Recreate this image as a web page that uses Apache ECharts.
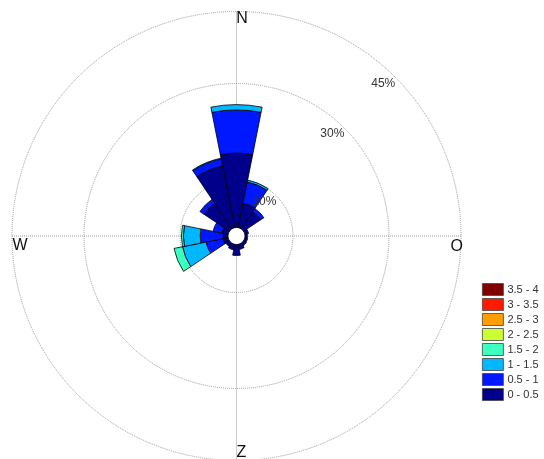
<!DOCTYPE html>
<html>
<head>
<meta charset="utf-8">
<script src="https://cdn.jsdelivr.net/npm/echarts@6/dist/echarts.min.js"></script>
<style>
html,body{margin:0;padding:0;background:#fff;}
#chart{width:544px;height:459px;}
</style>
</head>
<body>
<div id="chart"></div>
<script>
// Wind directions, clockwise from North
const directions = ['N','NNE','NE','ENE','E','ESE','SE','SSE','S','SSW','SW','WSW','W','WNW','NW','NNW'];
// Speed classes (bins)
const speedBins = ['0 - 0.5','0.5 - 1','1 - 1.5','1.5 - 2','2 - 2.5','2.5 - 3','3 - 3.5','3.5 - 4'];
// Frequency (%) per direction for each speed class
const freq_0_05   = [15.5, 5.2, 4.3, 0.8, 0.5, 0.6, 0.7, 1.1, 2.3, 1.2, 0.9, 1.1, 1.0, 1.3, 6.4, 13.1];
const freq_05_1   = [9.0, 4.5, 0.8, 0, 0, 0, 0, 0, 0, 0, 0, 3.6, 4.8, 1.9, 1.0, 1.5];
const freq_1_15   = [1.1, 0.4, 0, 0, 0, 0, 0, 0, 0, 0, 0, 5.0, 3.5, 0, 0, 0.15];
const freq_15_2   = [0, 0, 0, 0, 0, 0, 0, 0, 0, 0, 0, 1.8, 0.4, 0, 0, 0];
const freq_2_25   = [0, 0, 0, 0, 0, 0, 0, 0, 0, 0, 0, 0, 0, 0, 0, 0];
const freq_25_3   = [0, 0, 0, 0, 0, 0, 0, 0, 0, 0, 0, 0, 0, 0, 0, 0];
const freq_3_35   = [0, 0, 0, 0, 0, 0, 0, 0, 0, 0, 0, 0, 0, 0, 0, 0];
const freq_35_4   = [0, 0, 0, 0, 0, 0, 0, 0, 0, 0, 0, 0, 0, 0, 0, 0];
// Ring (radius tick) values in percent
const ringValues = [10, 30, 45];
// Compass labels
const compassLabels = {0: 'N', 90: 'O', 180: 'Z', 270: 'W'};

const binData = [freq_0_05, freq_05_1, freq_1_15, freq_15_2, freq_2_25, freq_25_3, freq_3_35, freq_35_4];
const binColors = ['#00008A','#0018FF','#00B8FF','#3CFFC0','#CCFF33','#FF9E00','#FF1A00','#800000'];

const FONT = '"Liberation Sans", Arial, Helvetica, sans-serif';
const CENTER = [236.5, 236];
const RADIUS = [8.5, 224.5];
const rMax = 45;
const compassKey = {N: 'n', O: 'o', Z: 'z', W: 'w'};

const series = speedBins.map((name, i) => ({
  name: name,
  type: 'bar',
  coordinateSystem: 'polar',
  polarIndex: 0,
  stack: 'wind',
  barCategoryGap: '0%',
  data: binData[i].map(v => (v > 0 ? v : '-')),
  itemStyle: { color: binColors[i], borderColor: '#000', borderWidth: 0.8 },
  emphasis: { disabled: true },
  z: 2
}));

const chart = echarts.init(document.getElementById('chart'), null, {renderer: 'canvas'});
chart.setOption({
  animation: false,
  backgroundColor: '#fff',
  textStyle: { fontFamily: FONT },
  polar: [
    { center: CENTER, radius: RADIUS },
    { center: CENTER, radius: RADIUS },
    { center: CENTER, radius: RADIUS }
  ],
  angleAxis: [
    {
      polarIndex: 0, type: 'category', data: directions, startAngle: 101.25,
      axisLine: {show: false}, axisTick: {show: false}, axisLabel: {show: false},
      splitLine: {show: false}, splitArea: {show: false}
    },
    {
      polarIndex: 1, type: 'value', min: 0, max: 360, interval: 90, startAngle: 90,
      axisLine: {show: false}, axisTick: {show: false},
      splitLine: {show: true, lineStyle: {type: 'dotted', color: '#9a9a9a', width: 1}},
      axisLabel: {
        show: true, margin: -15.5, color: '#111', fontSize: 16, fontFamily: FONT,
        formatter: function (v) {
          const t = compassLabels[v];
          return t ? '{' + compassKey[t] + '|' + t + '}' : '';
        },
        rich: {
          n: {fontSize: 16, color: '#111', padding: [0, 0, 0, 11]},
          o: {fontSize: 16, color: '#111', padding: [22, 0, 0, 5]},
          z: {fontSize: 16, color: '#111', padding: [0, 0, 0, 10]},
          w: {fontSize: 16, color: '#111', padding: [19, 0, 0, 0]}
        }
      }
    },
    {
      polarIndex: 2, type: 'value', min: 0, max: 360, startAngle: 45,
      axisLine: {show: false}, axisTick: {show: false}, axisLabel: {show: false},
      splitLine: {show: false}
    }
  ],
  radiusAxis: [
    {
      polarIndex: 0, type: 'value', min: 0, max: rMax,
      axisLine: {show: false}, axisTick: {show: false}, axisLabel: {show: false},
      splitLine: {show: false}
    },
    {
      polarIndex: 1, type: 'value', min: 0, max: rMax,
      axisLine: {show: false},
      axisTick: {show: false, customValues: ringValues},
      axisLabel: {show: false, customValues: ringValues},
      splitLine: {show: true, lineStyle: {type: 'dotted', color: '#9a9a9a', width: 1}}
    },
    {
      polarIndex: 2, type: 'value', min: 0, max: rMax, z: 10,
      axisLine: {show: false},
      axisTick: {show: false, customValues: ringValues},
      axisLabel: {
        show: true, customValues: ringValues, formatter: '{value}%',
        margin: 0, align: 'right', verticalAlign: 'top',
        color: '#333', fontSize: 12, fontFamily: FONT
      },
      splitLine: {show: false}
    }
  ],
  legend: {
    orient: 'vertical', left: 482, top: 283, padding: 0,
    data: speedBins.slice().reverse(),
    icon: 'rect', itemWidth: 21, itemHeight: 12, itemGap: 2,
    itemStyle: {borderColor: '#444', borderWidth: 0.8},
    textStyle: {color: '#333', fontSize: 11, lineHeight: 13, fontFamily: FONT, padding: [0, 0, 0, -1]},
    selectedMode: false
  },
  series: series
});
</script>
</body>
</html>
